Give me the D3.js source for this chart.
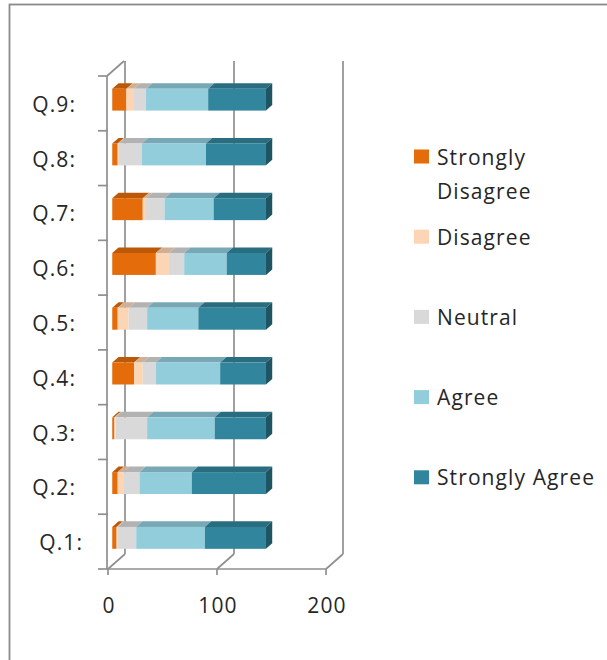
<!DOCTYPE html>
<html>
<head>
<meta charset="utf-8">
<script src="https://cdn.jsdelivr.net/npm/d3@7"></script>
<style>
  html, body { margin: 0; padding: 0; background: #ffffff; }
  svg { display: block; }
  text { font-family: "Open Sans", "Noto Sans", sans-serif; fill: #262626; }
</style>
</head>
<body>
<svg id="chart" width="607" height="660"></svg>
<script>
// Survey responses per question (respondent counts)
const categories = ["Q.1:", "Q.2:", "Q.3:", "Q.4:", "Q.5:", "Q.6:", "Q.7:", "Q.8:", "Q.9:"];
const seriesNames = ["Strongly Disagree", "Disagree", "Neutral", "Agree", "Strongly Agree"];
const stronglyDisagree = [4, 5, 2, 20, 5, 40, 28, 5, 13];
const disagree         = [1, 5, 1, 8, 10, 12, 3, 1, 7];
const neutral          = [17, 15, 29, 12, 17, 14, 17, 21, 11];
const agree            = [63, 48, 62, 59, 47, 39, 45, 59, 57];
const stronglyAgree    = [56, 68, 47, 42, 62, 36, 48, 55, 53];
const xTicks = [0, 100, 200];
const seriesColors = ["#E46C0A", "#FCD5B5", "#D9D9D9", "#92CDDC", "#31859C"];

const seriesValues = [stronglyDisagree, disagree, neutral, agree, stronglyAgree];
const rows = categories.map((c, i) => {
  const r = { cat: c };
  seriesNames.forEach((s, j) => { r[s] = seriesValues[j][i]; });
  return r;
});
const stacked = d3.stack().keys(seriesNames)(rows);

const svg = d3.select("#chart");

// outer chart frame
svg.append("rect")
  .attr("x", 9.5).attr("y", 4.5).attr("width", 700).attr("height", 700)
  .attr("fill", "none").attr("stroke", "#8a8a8a").attr("stroke-width", 1.8);

// front-plane scales of the oblique 3D box
const x = d3.scaleLinear().domain([0, 200]).range([108, 326]);
const y = d3.scaleBand().domain(categories).range([569, 76])
  .paddingInner(0.6).paddingOuter(0.3);
const depth = { dx: 17, dy: -15 };            // front plane -> back wall
const barFront = 0.25, barBack = 0.62;        // bar occupies this slice of the depth
const fo = { dx: depth.dx * barFront, dy: depth.dy * barFront };
const bo = { dx: depth.dx * barBack, dy: depth.dy * barBack };

const floorY = 569, topY = 76;
const gridColor = "#8f8f8f";

const grid = svg.append("g").attr("stroke", gridColor).attr("stroke-width", 1.7).attr("fill", "none");
// back-wall vertical gridlines and floor diagonals
xTicks.forEach(v => {
  const fx = x(v);
  grid.append("line")
    .attr("x1", fx + depth.dx).attr("x2", fx + depth.dx)
    .attr("y1", topY + depth.dy).attr("y2", floorY + depth.dy);
  grid.append("line")
    .attr("x1", fx).attr("y1", floorY)
    .attr("x2", fx + depth.dx).attr("y2", floorY + depth.dy);
});
// category axis (front left edge) with top diagonal
grid.append("line").attr("x1", x(0) - 1).attr("x2", x(0) - 1).attr("y1", topY).attr("y2", floorY);
grid.append("line").attr("x1", x(0) - 1).attr("y1", topY)
  .attr("x2", x(0) - 1 + depth.dx).attr("y2", topY + depth.dy);
// value axis (front floor edge)
grid.append("line").attr("x1", x(0) - 1).attr("x2", x(200)).attr("y1", floorY).attr("y2", floorY);
xTicks.forEach(v => {
  grid.append("line").attr("x1", x(v)).attr("x2", x(v)).attr("y1", floorY).attr("y2", floorY + 6);
});
// category tick marks at band boundaries
const step = y.step();
d3.range(categories.length + 1).forEach(k => {
  const ty = topY + k * step;
  grid.append("line").attr("x1", x(0) - 10).attr("x2", x(0)).attr("y1", ty).attr("y2", ty);
});

// stacked 3D bars
const bars = svg.append("g");
const h = y.bandwidth();
categories.forEach((c, i) => {
  const g = bars.append("g");
  const y0 = y(c);
  stacked.forEach((layer, j) => {
    const [a, b] = layer[i];
    if (b - a <= 0) return;
    const x1 = x(a), x2 = x(b);
    const col = d3.color(seriesColors[j]);
    // top face
    g.append("path")
      .attr("d", `M${x1 + fo.dx},${y0 + fo.dy}L${x2 + fo.dx},${y0 + fo.dy}L${x2 + bo.dx},${y0 + bo.dy}L${x1 + bo.dx},${y0 + bo.dy}Z`)
      .attr("fill", col.darker(0.55));
    // front face
    g.append("rect")
      .attr("x", x1 + fo.dx).attr("y", y0 + fo.dy)
      .attr("width", x2 - x1).attr("height", h)
      .attr("fill", col);
    // right side face only on the outermost segment
    if (j === stacked.length - 1) {
      g.append("path")
        .attr("d", `M${x2 + fo.dx},${y0 + fo.dy}L${x2 + bo.dx},${y0 + bo.dy}L${x2 + bo.dx},${y0 + h + bo.dy}L${x2 + fo.dx},${y0 + h + fo.dy}Z`)
        .attr("fill", col.darker(1.3));
    }
  });
});

const fontSize = 21, spacing = "1.1px";

// category labels; the lowest one sits a little right, clear of the axis corner
svg.append("g").selectAll("text").data(categories).join("text")
  .attr("x", (d, i) => (i === 0 ? 83 : 76))
  .attr("y", d => y(d) + h / 2 + 8.5)
  .attr("text-anchor", "end")
  .attr("font-size", fontSize).attr("letter-spacing", spacing)
  .text(d => d);

// value axis labels
svg.append("g").selectAll("text").data(xTicks).join("text")
  .attr("x", d => x(d) + 1)
  .attr("y", 613)
  .attr("text-anchor", "middle")
  .attr("font-size", fontSize).attr("letter-spacing", spacing)
  .text(d => d);

// legend
const legend = svg.append("g");
seriesNames.forEach((name, j) => {
  const base = 164.5 + j * 80.2;
  legend.append("rect")
    .attr("x", 414).attr("y", base - 15).attr("width", 15).attr("height", 14)
    .attr("fill", seriesColors[j]);
  const t = legend.append("text")
    .attr("x", 437).attr("y", base)
    .attr("font-size", fontSize).attr("letter-spacing", spacing);
  const lines = j === 0 ? name.split(" ") : [name];
  lines.forEach((ln, k) => {
    t.append("tspan").attr("x", 437).attr("dy", k === 0 ? 0 : 34).text(ln);
  });
});
</script>
</body>
</html>
